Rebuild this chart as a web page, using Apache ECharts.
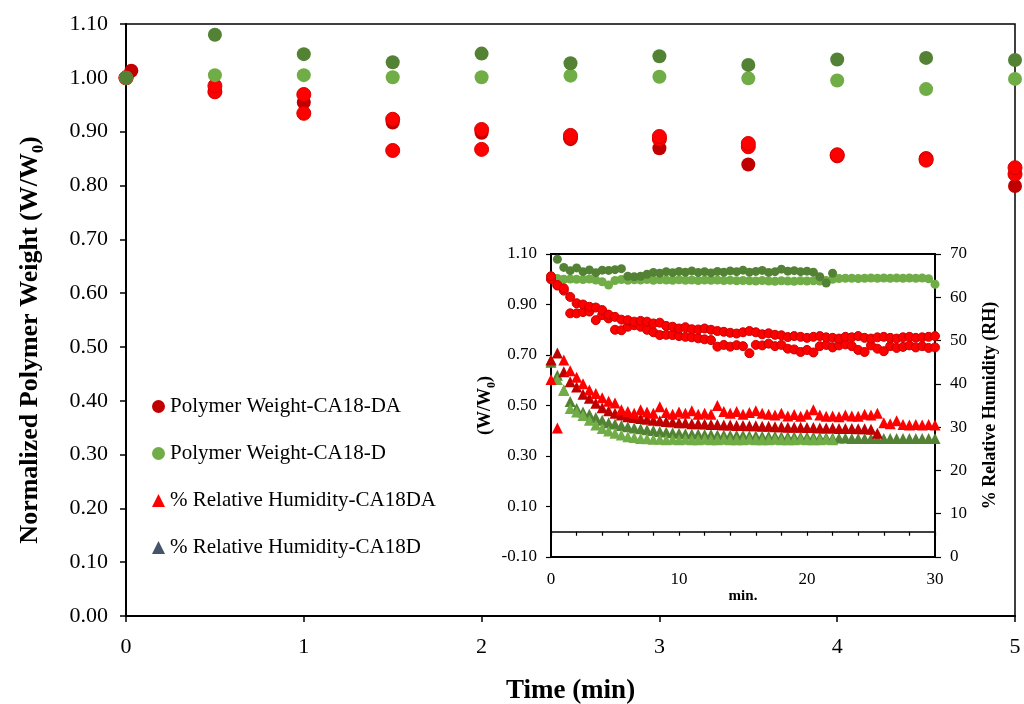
<!DOCTYPE html>
<html>
<head>
<meta charset="utf-8">
<script src="https://cdn.jsdelivr.net/npm/echarts@6/dist/echarts.min.js"></script>
<style>
  html, body { margin: 0; padding: 0; background: #fff; }
  #chart { width: 1024px; height: 704px; }
</style>
</head>
<body>
<div id="chart"></div>
<script>
// ---- Main panel: first 5 minutes, normalized polymer weight W/W0 ----
const mainTime    = [0, 0.5, 1, 1.5, 2, 2.5, 3, 3.5, 4, 4.5, 5];
const mainTimeDA1 = [0.03, 0.5, 1, 1.5, 2, 2.5, 3, 3.5, 4, 4.5, 5];
const weightDA1 = [1.013, 0.974, 0.954, 0.917, 0.898, 0.886, 0.869, 0.839, 0.855, 0.849, 0.799];
const weightDA2 = [1.000, 0.985, 0.969, 0.923, 0.904, 0.893, 0.891, 0.878, 0.857, 0.847, 0.833];
const weightDA3 = [1.000, 0.974, 0.934, 0.865, 0.867, 0.889, 0.886, 0.872, 0.855, 0.850, 0.821];
const weightD1  = [1.000, 1.080, 1.044, 1.029, 1.045, 1.027, 1.040, 1.024, 1.034, 1.037, 1.033];
const weightD2  = [1.000, 1.005, 1.005, 1.001, 1.001, 1.004, 1.002, 0.999, 0.995, 0.979, 0.998];

// ---- Inset: full 30 minute run ----
const insetTime = [0, 0.5, 1, 1.5, 2, 2.5, 3, 3.5, 4, 4.5, 5, 5.5, 6, 6.5, 7, 7.5, 8, 8.5, 9, 9.5,
  10, 10.5, 11, 11.5, 12, 12.5, 13, 13.5, 14, 14.5, 15, 15.5, 16, 16.5, 17, 17.5, 18, 18.5, 19, 19.5,
  20, 20.5, 21, 21.5, 22, 22.5, 23, 23.5, 24, 24.5, 25, 25.5, 26, 26.5, 27, 27.5, 28, 28.5, 29, 29.5, 30];

const insetWD1 = [1.000, 1.079, 1.047, 1.034, 1.045, 1.030, 1.037, 1.026, 1.036, 1.035,
  1.038, 1.042, 1.012, 1.010, 1.012, 1.020, 1.027, 1.024, 1.030, 1.026,
  1.031, 1.028, 1.033, 1.027, 1.030, 1.025, 1.031, 1.028, 1.033, 1.030,
  1.036, 1.028, 1.031, 1.035, 1.027, 1.030, 1.040, 1.032, 1.034, 1.030,
  1.032, 1.028, 1.010, 0.985, 1.024];
const insetWD2 = [1.000, 1.003, 1.000, 1.001, 1.000, 0.999, 1.001, 0.997, 0.990, 0.977,
  0.995, 0.999, 0.996, 0.998, 0.997, 0.999, 0.996, 0.998, 0.997, 0.996,
  0.998, 0.996, 0.997, 0.995, 0.997, 0.996, 0.997, 0.995, 0.996, 0.994,
  0.995, 0.994, 0.993, 0.995, 0.993, 0.992, 0.994, 0.993, 0.992, 0.994,
  0.993, 0.994, 0.993, 0.995, 1.000, 1.003, 1.004, 1.004, 1.003, 1.004,
  1.005, 1.004, 1.005, 1.004, 1.005, 1.004, 1.005, 1.004, 1.005, 1.002,
  0.980];
const insetWDA1 = [1.012, 0.977, 0.964, 0.930, 0.905, 0.900, 0.891, 0.888, 0.878, 0.860,
  0.851, 0.840, 0.838, 0.832, 0.835, 0.832, 0.825, 0.828, 0.815, 0.812,
  0.805, 0.810, 0.802, 0.801, 0.805, 0.800, 0.795, 0.792, 0.788, 0.785,
  0.790, 0.795, 0.790, 0.782, 0.786, 0.780, 0.778, 0.771, 0.775, 0.772,
  0.768, 0.772, 0.775, 0.770, 0.768, 0.765, 0.772, 0.770, 0.775, 0.768,
  0.765, 0.770, 0.772, 0.768, 0.765, 0.770, 0.772, 0.768, 0.770, 0.772,
  0.775];
const insetWDA2 = [1.000, 0.975, 0.955, 0.865, 0.865, 0.870, 0.872, 0.838, 0.858, 0.845,
  0.800, 0.798, 0.812, 0.818, 0.812, 0.800, 0.790, 0.779, 0.780, 0.779,
  0.775, 0.772, 0.770, 0.766, 0.762, 0.759, 0.733, 0.740, 0.733, 0.739,
  0.735, 0.707, 0.740, 0.738, 0.745, 0.735, 0.740, 0.725, 0.722, 0.712,
  0.720, 0.710, 0.735, 0.740, 0.730, 0.738, 0.742, 0.735, 0.720, 0.712,
  0.738, 0.725, 0.715, 0.735, 0.728, 0.732, 0.738, 0.730, 0.735, 0.728,
  0.730];

// relative humidity (%) on the inset's right axis
const rhDA1 = [41.0, 29.8, 45.5, 43.0, 41.5, 40.0, 38.6, 37.8, 36.8, 36.0,
  35.6, 34.0, 33.6, 33.2, 34.0, 33.5, 33.2, 34.7, 33.4, 33.0,
  33.5, 33.2, 33.8, 33.0, 33.2, 33.0, 35.0, 33.6, 33.2, 33.6,
  33.0, 33.4, 33.8, 33.2, 33.0, 32.8, 33.2, 32.6, 32.9, 32.5,
  33.0, 34.0, 32.8, 32.5, 32.6, 32.4, 32.8, 32.6, 32.5, 33.0,
  32.8, 33.2, 31.0, 30.8, 31.5, 30.6, 30.5, 30.6, 30.5, 30.6,
  30.5];
const rhDA2 = [45.5, 47.1, 42.8, 40.5, 39.3, 37.6, 36.7, 35.5, 34.5, 33.8,
  33.2, 32.8, 32.4, 32.2, 32.0, 31.8, 31.6, 31.5, 31.3, 31.2,
  31.0, 31.0, 30.8, 30.8, 30.7, 30.6, 30.6, 30.5, 30.5, 30.4,
  30.4, 30.3, 30.3, 30.2, 30.2, 30.1, 30.1, 30.0, 30.0, 30.0,
  29.9, 29.9, 29.8, 29.8, 29.8, 29.7, 29.7, 29.7, 29.6, 29.6,
  29.5, 28.6];
const rhD1 = [45.0, 42.0, 38.5, 35.9, 34.3, 33.5, 33.0, 32.2, 31.6, 31.0,
  30.7, 30.4, 30.1, 29.8, 29.6, 29.4, 29.2, 29.0, 28.9, 28.7,
  28.6, 28.5, 28.4, 28.4, 28.3, 28.3, 28.2, 28.2, 28.1, 28.1,
  28.1, 28.0, 28.0, 27.9, 27.9, 27.9, 27.8, 27.8, 27.8, 27.7,
  27.7, 27.7, 27.6, 27.6, 27.5, 27.5, 27.5, 27.4, 27.4, 27.4,
  27.4, 27.4, 27.4, 27.4, 27.4, 27.4, 27.4, 27.4, 27.4, 27.4,
  27.4];
const rhD2 = [45.5, 41.0, 38.6, 34.3, 33.5, 32.7, 31.6, 30.5, 29.7, 29.1,
  28.6, 28.2, 27.8, 27.6, 27.4, 27.3, 27.2, 27.2, 27.1, 27.2,
  27.1, 27.2, 27.1, 27.1, 27.2, 27.1, 27.1, 27.2, 27.1, 27.1,
  27.1, 27.2, 27.1, 27.1, 27.1, 27.2, 27.1, 27.1, 27.1, 27.2,
  27.1, 27.1, 27.1, 27.2, 27.1];

const DARK_RED = '#C00000', RED = '#FF0000', DARK_GREEN = '#548235', LIGHT_GREEN = '#70AD47';
const FONT = 'Liberation Serif';

const pairs = (ts, vs) => vs.map((v, i) => [ts[i], v]);

function styleOf(color, border) {
  return border ? { color, opacity: 1, borderColor: border, borderWidth: 1 } : { color, opacity: 1 };
}
function mainScatter(name, ts, vs, color, border) {
  return {
    type: 'scatter', name, xAxisIndex: 0, yAxisIndex: 0, clip: false,
    symbol: 'circle', symbolSize: 14,
    itemStyle: styleOf(color, border),
    data: pairs(ts, vs)
  };
}
function insetScatter(name, vs, yIdx, symbol, color, border, size) {
  return {
    type: 'scatter', name, xAxisIndex: 1, yAxisIndex: yIdx, clip: false,
    symbol, symbolSize: size,
    itemStyle: styleOf(color, border),
    data: pairs(insetTime, vs)
  };
}

const chart = echarts.init(document.getElementById('chart'), null, { renderer: 'canvas' });

const option = {
  animation: false,
  backgroundColor: '#fff',
  textStyle: { fontFamily: FONT, color: '#000' },
  grid: [
    { left: 126, top: 24, width: 889, height: 592, outerBoundsMode: 'none', containLabel: false,
      show: true, borderColor: '#000', borderWidth: 1.5, backgroundColor: 'transparent' },
    { left: 551, top: 254, width: 384, height: 303, outerBoundsMode: 'none', containLabel: false,
      show: true, borderColor: '#000', borderWidth: 2, backgroundColor: '#fff' }
  ],
  legend: {
    orient: 'vertical', left: 147, top: 391, itemGap: 26, itemWidth: 13, itemHeight: 13,
    textStyle: { fontFamily: FONT, fontSize: 21, color: '#000' },
    selectedMode: false,
    data: [
      { name: 'Polymer Weight-CA18-DA', icon: 'circle' },
      { name: 'Polymer Weight-CA18-D', icon: 'circle' },
      { name: '% Relative Humidity-CA18DA', icon: 'triangle' },
      { name: '% Relative Humidity-CA18D', icon: 'triangle', itemStyle: { color: '#44546A' } }
    ]
  },
  xAxis: [
    {
      gridIndex: 0, type: 'value', min: 0, max: 5, interval: 1,
      axisLine: { onZero: false, lineStyle: { color: '#000', width: 2 } },
      axisTick: { length: 6, lineStyle: { color: '#000', width: 1.5 } },
      axisLabel: { fontFamily: FONT, fontSize: 22, color: '#000', margin: 20 },
      splitLine: { show: false },
      name: 'Time (min)', nameLocation: 'middle', nameGap: 62,
      nameTextStyle: { fontFamily: FONT, fontSize: 27, fontWeight: 'bold', color: '#000' }
    },
    {
      // inset time axis drawn through W/W0 = 0
      gridIndex: 1, type: 'value', min: 0, max: 30, interval: 2,
      axisLine: { onZero: true, onZeroAxisIndex: 1, lineStyle: { color: '#000', width: 1.5 } },
      axisTick: { length: 4, lineStyle: { color: '#000', width: 1.2 } },
      axisLabel: { show: false },
      splitLine: { show: false }
    },
    {
      // inset time labels along the lower frame
      gridIndex: 1, type: 'value', min: 0, max: 30, interval: 10, position: 'bottom',
      axisLine: { show: false, onZero: false },
      axisTick: { show: false },
      axisLabel: { fontFamily: FONT, fontSize: 17, color: '#000', margin: 14 },
      splitLine: { show: false },
      name: 'min.', nameLocation: 'middle', nameGap: 23,
      nameTextStyle: { fontFamily: FONT, fontSize: 15, fontWeight: 'bold', color: '#000' }
    }
  ],
  yAxis: [
    {
      gridIndex: 0, type: 'value', min: 0, max: 1.1, interval: 0.1,
      axisLine: { show: true, onZero: false, lineStyle: { color: '#000', width: 2 } },
      axisTick: { show: true, length: 6, lineStyle: { color: '#000', width: 1.5 } },
      axisLabel: { fontFamily: FONT, fontSize: 22, color: '#000', margin: 18, formatter: v => v.toFixed(2) },
      splitLine: { show: false },
      name: '{t|Normalized Polymer Weight (W/W}{s|0}{t|)}',
      nameLocation: 'middle', nameGap: 79,
      nameTextStyle: {
        padding: [0, 40, 0, 0],
        rich: {
          t: { fontFamily: FONT, fontSize: 26, fontWeight: 'bold', color: '#000', lineHeight: 34 },
          s: { fontFamily: FONT, fontSize: 16, fontWeight: 'bold', color: '#000', lineHeight: 16, verticalAlign: 'bottom' }
        }
      }
    },
    {
      gridIndex: 1, type: 'value', min: -0.1, max: 1.1, interval: 0.2,
      axisLine: { show: true, onZero: false, lineStyle: { color: '#000', width: 2 } },
      axisTick: { show: true, length: 5, lineStyle: { color: '#000', width: 1.2 } },
      axisLabel: { fontFamily: FONT, fontSize: 17, color: '#000', margin: 14, formatter: v => v.toFixed(2) },
      splitLine: { show: false },
      name: '{t|(W/W}{s|0}{t|)}',
      nameLocation: 'middle', nameGap: 52,
      nameTextStyle: {
        rich: {
          t: { fontFamily: FONT, fontSize: 18, fontWeight: 'bold', color: '#000', lineHeight: 24 },
          s: { fontFamily: FONT, fontSize: 12, fontWeight: 'bold', color: '#000', lineHeight: 12, verticalAlign: 'bottom' }
        }
      }
    },
    {
      gridIndex: 1, type: 'value', min: 0, max: 70, interval: 10, position: 'right',
      axisLine: { show: true, onZero: false, lineStyle: { color: '#000', width: 2 } },
      axisTick: { show: true, length: 6, lineStyle: { color: '#000', width: 1.2 } },
      axisLabel: { fontFamily: FONT, fontSize: 17, color: '#000', margin: 15 },
      splitLine: { show: false },
      name: '% Relative Humidity (RH)', nameLocation: 'middle', nameGap: 46, nameRotate: 90,
      nameTextStyle: { fontFamily: FONT, fontSize: 18, fontWeight: 'bold', color: '#000' }
    }
  ],
  series: [
    // main panel
    mainScatter('Polymer Weight-CA18-DA', mainTimeDA1, weightDA1, DARK_RED),
    mainScatter('Polymer Weight-CA18-DA (2)', mainTime, weightDA3, RED, '#D80000'),
    mainScatter('Polymer Weight-CA18-DA (3)', mainTime, weightDA2, RED, '#D80000'),
    mainScatter('Polymer Weight-CA18-D', mainTime, weightD2, LIGHT_GREEN),
    mainScatter('Polymer Weight-CA18-D (2)', mainTime, weightD1, DARK_GREEN),
    // inset: humidity (right axis)
    insetScatter('% Relative Humidity-CA18D', rhD1, 2, 'triangle', DARK_GREEN, null, 11),
    insetScatter('% Relative Humidity-CA18D (2)', rhD2, 2, 'triangle', LIGHT_GREEN, null, 11),
    insetScatter('% Relative Humidity-CA18DA (2)', rhDA2, 2, 'triangle', DARK_RED, null, 11),
    insetScatter('% Relative Humidity-CA18DA', rhDA1, 2, 'triangle', RED, null, 11),
    // inset: weight (left axis)
    insetScatter('W/W0 CA18-D (2)', insetWD2, 1, 'circle', LIGHT_GREEN, null, 9),
    insetScatter('W/W0 CA18-D (1)', insetWD1, 1, 'circle', DARK_GREEN, null, 9),
    insetScatter('W/W0 CA18-DA (2)', insetWDA2, 1, 'circle', RED, '#C80000', 9),
    insetScatter('W/W0 CA18-DA (1)', insetWDA1, 1, 'circle', RED, '#C80000', 9)
  ]
};

chart.setOption(option);
</script>
</body>
</html>
